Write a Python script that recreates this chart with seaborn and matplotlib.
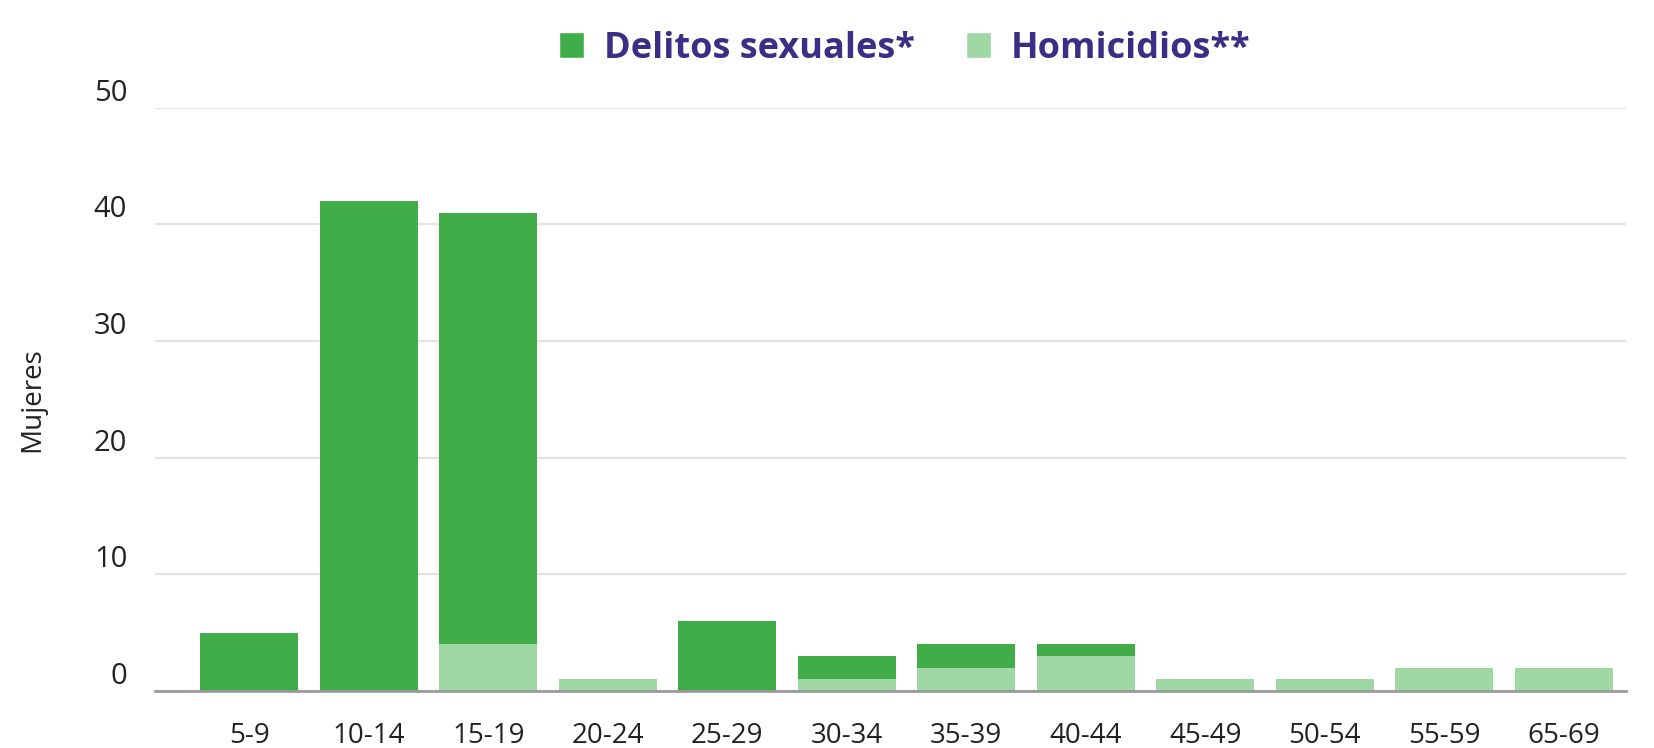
import numpy as np
import pandas as pd
import matplotlib.pyplot as plt
import seaborn as sns
from matplotlib.patches import Patch

# ── Data ─────────────────────────────────────────────
grupos = ["5-9", "10-14", "15-19", "20-24", "25-29", "30-34",
          "35-39", "40-44", "45-49", "50-54", "55-59", "65-69"]
delitos_sexuales = [5, 42, 37, 0, 6, 2, 2, 1, 0, 0, 0, 0]
homicidios = [0, 0, 4, 1, 0, 1, 2, 3, 1, 1, 2, 2]

verde_oscuro = "#41ad49"
verde_claro = "#a0d8a5"
morado = "#3b2f85"

df = pd.DataFrame({"Grupo": grupos,
                   "Delitos": delitos_sexuales,
                   "Homicidios": homicidios})
df["Total"] = df["Delitos"] + df["Homicidios"]

sns.set_theme(style="white")
plt.rcParams["font.family"] = ["Open Sans", "DejaVu Sans"]

fig = plt.figure(figsize=(16.54, 7.48), dpi=100)
ax = fig.add_axes([0.0937, 0.0762, 0.8893, 0.7798])

# stacked: total (dark) first, homicidios (light) on top at the base
sns.barplot(data=df, x="Grupo", y="Total", color=verde_oscuro,
            width=0.82, saturation=1, linewidth=0, ax=ax, zorder=3)
sns.barplot(data=df, x="Grupo", y="Homicidios", color=verde_claro,
            width=0.82, saturation=1, linewidth=0, ax=ax, zorder=3)

ax.set_ylim(0, 50)
ax.set_xlim(-0.79, 11.52)
ax.set_yticks([0, 10, 20, 30, 40, 50])
ax.yaxis.grid(True, color="#e4e4e4", linewidth=1.6, zorder=0)
ax.set_axisbelow(True)

for s in ["top", "right", "left"]:
    ax.spines[s].set_visible(False)
ax.spines["bottom"].set_color("#9a9a9a")
ax.spines["bottom"].set_linewidth(2)
ax.spines["bottom"].set_zorder(4)

ax.tick_params(axis="x", length=0, pad=22, labelsize=20, labelcolor="#222222")
ax.tick_params(axis="y", length=0, pad=20, labelsize=21, labelcolor="#222222")
for lab in ax.get_yticklabels():
    lab.set_verticalalignment("bottom")

ax.set_xlabel("")
ax.set_ylabel("Mujeres", fontsize=20, color="#222222", labelpad=34)

handles = [Patch(facecolor=verde_oscuro, label="Delitos sexuales*"),
           Patch(facecolor=verde_claro, label="Homicidios**")]
leg = fig.legend(handles=handles, loc="center", bbox_to_anchor=(0.547, 0.935),
                 ncol=2, frameon=False, handlelength=0.7,
                 handleheight=0.7, handletextpad=0.55, columnspacing=1.4,
                 prop={"weight": "bold", "size": 26})
for t in leg.get_texts():
    t.set_color(morado)

fig.savefig("out.png", dpi=100)
